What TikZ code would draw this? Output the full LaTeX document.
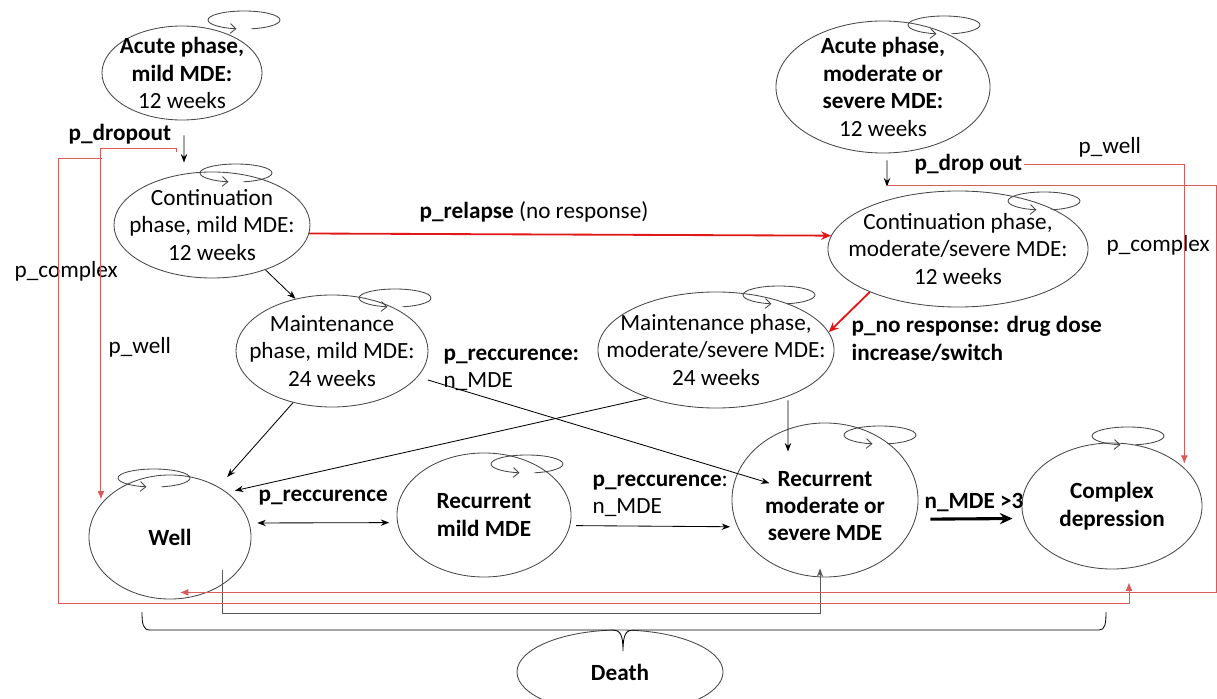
\documentclass[tikz,border=0pt]{standalone}
\usepackage{fontspec}
\setmainfont{Carlito}
\usepackage{tikz}
\usetikzlibrary{arrows.meta,calc,shapes.geometric}

\definecolor{ellgray}{RGB}{70,70,70}
\definecolor{linkred}{RGB}{218,90,90}
\definecolor{relred}{RGB}{224,24,24}
\definecolor{wiregray}{RGB}{90,90,90}

\begin{document}
\begin{tikzpicture}[x=0.025cm,y=0.025cm,>={Stealth[length=6pt,width=4.5pt]},
  font=\fontsize{16.5}{19.5}\selectfont,
  state/.style={ellipse,draw=ellgray,line width=0.6pt,inner sep=0pt},
  txt/.style={align=center,inner sep=0pt},
  lbl/.style={anchor=west,align=left,inner sep=1pt},
  arr/.style={->,line width=0.6pt},
  redthin/.style={-{Latex[length=6pt,width=5pt]},draw=linkred,line width=0.7pt},
  relapse/.style={-{Stealth[length=7pt,width=6pt]},draw=relred,line width=1.3pt},
  selfloop/.style={draw=ellgray,line width=0.6pt,-{Straight Barb[length=4pt,width=7pt]}}]
  \useasboundingbox (0,0) rectangle (1217,698);

  % states
  \node[state,minimum width=4cm,minimum height=2.35cm,
    label={[txt]center:{\textbf{Acute phase,}\\\textbf{mild MDE:}\\12 weeks}}] (amild) at (182,625) {};
  \node[state,minimum width=4.9cm,minimum height=2.65cm,
    label={[txt]center:{Continuation\\phase, mild MDE:\\12 weeks}}] (cmild) at (212,473) {};
  \node[state,minimum width=4.8cm,minimum height=2.8cm,
    label={[txt]center:{Maintenance\\phase, mild MDE:\\24 weeks}}] (mmild) at (332,347) {};
  \node[state,minimum width=5.35cm,minimum height=3.3cm,
    label={[txt]center:{\textbf{Acute phase,}\\\textbf{moderate or}\\\textbf{severe MDE:}\\12 weeks}}] (amod) at (883,611) {};
  \node[state,minimum width=6.5cm,minimum height=2.9cm,
    label={[txt]center:{Continuation phase,\\moderate/severe MDE:\\12 weeks}}] (cmod) at (958,449) {};
  \node[state,minimum width=5.9cm,minimum height=2.9cm,
    label={[txt]center:{Maintenance phase,\\moderate/severe MDE:\\24 weeks}}] (mmod) at (716,348) {};
  \node[state,minimum width=4.05cm,minimum height=3.1cm,
    label={[txt]center:{\textbf{Well}}}] (well) at (170,161) {};
  \node[state,minimum width=4.35cm,minimum height=3.1cm,
    label={[txt]center:{\textbf{Recurrent}\\\textbf{mild MDE}}}] (rmild) at (484,183) {};
  \node[state,minimum width=4.65cm,minimum height=3.85cm,
    label={[txt,yshift=-0.15cm]center:{\textbf{Recurrent}\\\textbf{moderate or}\\\textbf{severe MDE}}}] (rmod) at (825,198) {};
  \node[state,minimum width=4.5cm,minimum height=3.15cm,
    label={[txt]center:{\textbf{Complex}\\\textbf{depression}}}] (complex) at (1112,192) {};
  \node[state,minimum width=5.15cm,minimum height=2.1cm,
    label={[txt]center:{\textbf{Death}}}] (death) at (620,26) {};

  % self loops
  \foreach \s/\dx/\dy in {amild/62/53,cmild/24/52,mmild/63/53,amod/61/62,cmod/86/48,
                          mmod/63/55,well/-16/59,rmild/43/51,rmod/55/65,complex/16/70}
    \draw[selfloop] ($(\s)+(\dx,\dy)+(-78:0.9cm and 0.225cm)$)
      arc[start angle=-78,end angle=258,x radius=0.9cm,y radius=0.225cm];

  % labels
  \node[lbl] (pdropmild) at (67,564) {\textbf{p\_dropout}};
  \node[lbl] (pcomplexl) at (13,427) {p\_complex};
  \node[lbl] (pwelll) at (107,351) {p\_well};
  \node[lbl] (prelapse) at (418,486) {\textbf{p\_relapse} (no response)};
  \node[lbl] (precm) at (442,328) {\textbf{p\_reccurence:}\\n\_MDE};
  \node[lbl] (pnoresp) at (850,359) {\textbf{p\_no response: drug dose}\\\textbf{increase/switch}};
  \node[lbl] (pwellr) at (1077,551) {p\_well};
  \node[lbl] (pdropmod) at (913,534) {\textbf{p\_drop out}};
  \node[lbl] (pcomplexr) at (1105,453) {p\_complex};
  \node[lbl] (precw) at (257,200) {\textbf{p\_reccurence}};
  \node[lbl] (precr) at (591,202) {\textbf{p\_reccurence}:\\n\_MDE};
  \node[lbl] (nmde) at (923,195) {\textbf{n\_MDE >3}};

  % treatment path
  \draw[arr] ([xshift=0.05cm,yshift=-0.375cm]amild.south) -- ([xshift=-0.7cm,yshift=0.225cm]cmild.north);
  \draw[arr] (cmild.-40) -- (mmild.125);
  \draw[arr] ([xshift=0.1cm,yshift=-0.175cm]amod.south) -- ([xshift=-1.775cm,yshift=0.1cm]cmod.north);
  \draw[relapse] (cmild.-5) -- (cmod.174);
  \draw[relapse] (cmod.206) -- (mmod.9);
  \draw[arr,shorten >=0.33cm] (mmild.233) -- (well.46);
  \draw[arr,shorten >=0.2cm] (mmod.215) -- (well.38);
  \draw[arr,shorten <=2.5cm,shorten >=1.45cm] (mmild.center) -- (rmod.center);
  \draw[arr] ([xshift=1.8cm,yshift=0.2cm]mmod.south) -- ([xshift=-0.925cm,yshift=-0.725cm]rmod.north);

  % recurrence
  \draw[<->,line width=0.6pt,shorten <=0.2cm,shorten >=0.2cm] (well.10) -- (rmild.185);
  \draw[arr,shorten <=0.15cm,shorten >=0.18cm] (rmild.-7) -- (rmod.197);
  \draw[-{Stealth[length=9pt,width=8pt]},line width=2.2pt,shorten <=0.37cm,shorten >=0.27cm] (rmod.-12) -- (complex.188);
  \draw[arr,draw=wiregray] ([xshift=1.3cm,yshift=0.725cm]well.south) -- ++(0,-43)
    -| ([xshift=-0.125cm,yshift=0.225cm]rmod.south);

  % drop out routes
  \coordinate (dropmild) at ([xshift=-0.15cm,yshift=-0.8cm]amild.south);
  \coordinate (dropmod) at ([xshift=0.125cm,yshift=-0.8cm]amod.south);
  \draw[redthin] (dropmild) -- ++(0,4) -| ([xshift=-0.1cm]well.150);
  \draw[redthin] ($(dropmild)+(-74,-6)$) -- ++(-44,0) -- ++(0,-445)
    -| ([xshift=0.425cm,yshift=-0.325cm]complex.south);
  \draw[redthin] (dropmod) -- ++(328,0) |- ([xshift=0.25cm,yshift=0.175cm]well.south);
  \draw[redthin] (pdropmod.east) -| ([xshift=0.12cm]complex.32);

  % death brace
  \draw[line width=0.6pt] (142,86) .. controls (142,74) and (143,68) .. (150,68)
    -- (612,68) .. controls (620,68) and (623,64) .. (623,47)
    .. controls (623,64) and (626,68) .. (634,68) -- (1099,68)
    .. controls (1105,68) and (1106,74) .. (1106,86);
\end{tikzpicture}
\end{document}
